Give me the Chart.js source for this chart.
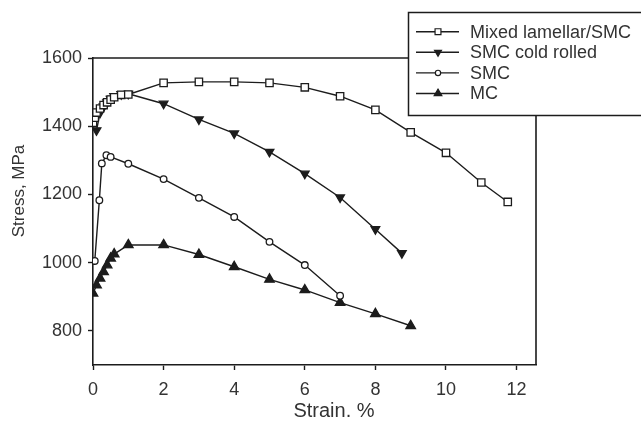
<!DOCTYPE html>
<html>
<head>
<meta charset="utf-8">
<script src="https://cdn.jsdelivr.net/npm/chart.js@4/dist/chart.umd.min.js"></script>
<style>
html,body{margin:0;padding:0;background:#fff;}
#wrap{position:relative;width:641px;height:422px;}
</style>
</head>
<body>
<div id="wrap"><canvas id="c" width="641" height="422"></canvas></div>
<script>
// ---- data ----
const seriesNames = ["Mixed lamellar/SMC", "SMC cold rolled", "SMC", "MC"];

const mixedStrain = [0, 0.05, 0.1, 0.2, 0.3, 0.4, 0.5, 0.6, 0.8, 1, 2, 3, 4, 5, 6, 7, 8, 9, 10, 11, 11.75];
const mixedStress = [1410, 1425, 1440, 1452, 1462, 1470, 1478, 1485, 1492, 1493, 1527, 1530, 1530, 1527, 1514, 1488, 1448, 1382, 1322, 1235, 1178];

const coldStrain = [0.1, 0.2, 0.3, 0.4, 0.5, 0.6, 0.8, 1, 2, 3, 4, 5, 6, 7, 8, 8.75];
const coldStress = [1388, 1440, 1458, 1470, 1480, 1488, 1494, 1495, 1466, 1420, 1379, 1325, 1261, 1191, 1098, 1028];

const smcStrain = [0.05, 0.18, 0.25, 0.38, 0.5, 1, 2, 3, 4, 5, 6, 7];
const smcStress = [1005, 1183, 1291, 1315, 1310, 1290, 1245, 1190, 1134, 1061, 993, 903];

const mcStrain = [0, 0.1, 0.2, 0.3, 0.4, 0.5, 0.6, 1, 2, 3, 4, 5, 6, 7, 8, 9];
const mcStress = [910, 934, 954, 973, 993, 1013, 1025, 1052, 1052, 1024, 988, 951, 920, 883, 850, 815];

const xTickValues = [0, 2, 4, 6, 8, 10, 12];
const yTickValues = [800, 1000, 1200, 1400, 1600];
const xTitle = "Strain. %";
const yTitle = "Stress, MPa";

// ---- chart ----
const INK = '#1c1c1c';
const TXT = '#333333';
Chart.defaults.font.family = "'Liberation Sans', Arial, sans-serif";
Chart.defaults.color = TXT;

function pts(xs, ys){ return xs.map((x,i)=>({x:x, y:ys[i]})); }

const styles = [
  {pointStyle:'rect', radius:5.2, rotation:0, bg:'#ffffff'},
  {pointStyle:'triangle', radius:5, rotation:180, bg:INK},
  {pointStyle:'circle', radius:3.3, rotation:0, bg:'#ffffff'},
  {pointStyle:'triangle', radius:5.5, rotation:0, bg:INK}
];
const sets = [[mixedStrain,mixedStress],[coldStrain,coldStress],[smcStrain,smcStress],[mcStrain,mcStress]];

const datasets = sets.map((s,i)=>({
  label: seriesNames[i],
  data: pts(s[0], s[1]),
  showLine: true,
  borderColor: INK,
  borderWidth: 1.4,
  tension: 0,
  pointStyle: styles[i].pointStyle,
  pointRadius: styles[i].radius,
  pointRotation: styles[i].rotation,
  pointBackgroundColor: styles[i].bg,
  pointBorderColor: INK,
  pointBorderWidth: 1.3
}));

const CA = {left:93, right:536, top:58, bottom:365};

const framePlugin = {
  id:'frame',
  afterDraw(chart){
    const ctx = chart.ctx, a = chart.chartArea;
    ctx.save();
    ctx.strokeStyle = INK;
    ctx.lineWidth = 1.6;
    ctx.beginPath();
    ctx.moveTo(a.left, a.top);
    ctx.lineTo(a.right, a.top);
    ctx.lineTo(a.right, a.bottom);
    ctx.stroke();
    // axis titles
    ctx.fillStyle = TXT;
    ctx.textAlign = 'center';
    ctx.textBaseline = 'middle';
    ctx.font = "20px 'Liberation Sans', Arial, sans-serif";
    ctx.fillText(xTitle, 334, 411);
    ctx.save();
    ctx.translate(19, 191);
    ctx.rotate(-Math.PI/2);
    ctx.font = "17px 'Liberation Sans', Arial, sans-serif";
    ctx.fillText(yTitle, 0, 0);
    ctx.restore();
    // legend box
    const bx = 408.5, by = 12.5, bw = 240, bh = 103;
    ctx.fillStyle = '#ffffff';
    ctx.fillRect(bx, by, bw, bh);
    ctx.strokeStyle = INK;
    ctx.lineWidth = 1.5;
    ctx.strokeRect(bx, by, bw, bh);
    ctx.font = "18px 'Liberation Sans', Arial, sans-serif";
    ctx.textAlign = 'left';
    chart.data.datasets.forEach((ds, i)=>{
      const y = 31.7 + i*20.6;
      ctx.strokeStyle = INK;
      ctx.lineWidth = 1.4;
      ctx.beginPath();
      ctx.moveTo(416, y);
      ctx.lineTo(459, y);
      ctx.stroke();
      ctx.fillStyle = ds.pointBackgroundColor;
      ctx.strokeStyle = INK;
      ctx.lineWidth = 1.2;
      Chart.helpers.drawPoint(ctx, {pointStyle: ds.pointStyle, radius: ds.pointRadius*0.8, rotation: ds.pointRotation, borderWidth: 1.2}, 438, y);
      ctx.fillStyle = TXT;
      ctx.fillText(ds.label, 470, y+1);
    });
    ctx.restore();
  }
};

new Chart(document.getElementById('c'), {
  type: 'scatter',
  data: { datasets: datasets },
  options: {
    responsive: false,
    animation: false,
    layout: { padding: { left: 0, right: 641 - CA.right, top: CA.top, bottom: 0 } },
    plugins: { legend: { display: false }, tooltip: { enabled: false } },
    scales: {
      x: {
        type: 'linear',
        min: 0, max: 12.55,
        afterBuildTicks(scale){ scale.ticks = xTickValues.map(v=>({value:v})); },
        afterFit(scale){ scale.height = 422 - CA.bottom; },
        grid: { display: true, drawOnChartArea: false, drawTicks: true, tickLength: 5, tickColor: INK, tickWidth: 1.4 },
        border: { display: true, color: INK, width: 1.6 },
        ticks: { color: TXT, font: { size: 18 }, padding: 9, maxRotation: 0, autoSkip: false, callback: v => String(v) }
      },
      y: {
        type: 'linear',
        min: 700, max: 1600,
        afterBuildTicks(scale){ scale.ticks = yTickValues.map(v=>({value:v})); },
        afterFit(scale){ scale.width = CA.left; },
        grid: { display: true, drawOnChartArea: false, drawTicks: true, tickLength: 5, tickColor: INK, tickWidth: 1.4 },
        border: { display: true, color: INK, width: 1.6 },
        ticks: { color: TXT, font: { size: 18 }, padding: 6, autoSkip: false, callback: v => String(v) }
      }
    }
  },
  plugins: [framePlugin]
});
</script>
</body>
</html>
